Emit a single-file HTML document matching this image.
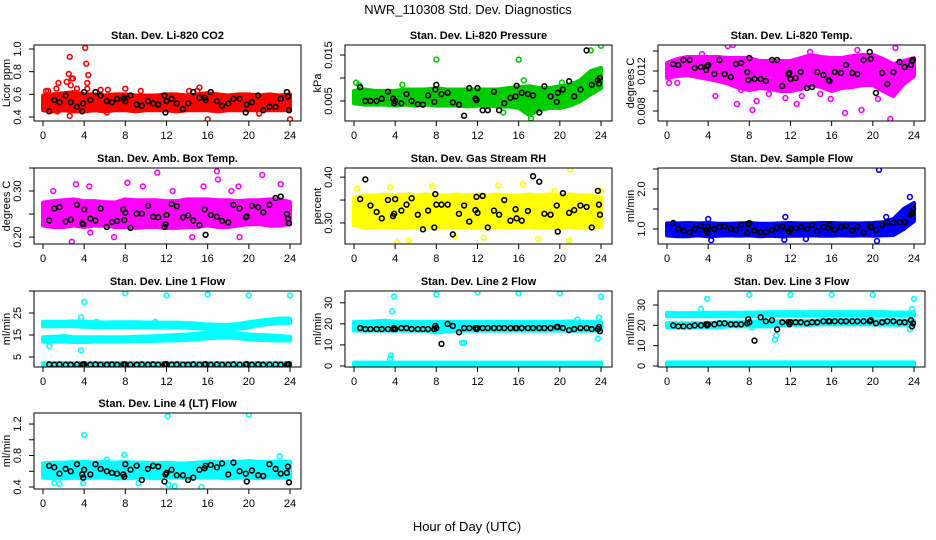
<!DOCTYPE html>
<html><head><meta charset="utf-8">
<style>
html,body{margin:0;padding:0;background:#fff;}
svg{display:block;font-family:"Liberation Sans",sans-serif;}
</style></head>
<body>
<svg id="chart" width="936" height="540" viewBox="0 0 936 540" xmlns="http://www.w3.org/2000/svg">
<rect width="936" height="540" fill="#fff"/>
<text x="468" y="14" text-anchor="middle" font-size="13">NWR_110308 Std. Dev. Diagnostics</text>
<text x="467" y="531" text-anchor="middle" font-size="13">Hour of Day (UTC)</text>
<g id="panels"></g>
</svg>
<script>
// ---- shared data ----
const hourTicks = [0,4,8,12,16,20,24];
const bandHours = [0,1,2,3,4,5,6,7,8,9,10,11,12,13,14,15,16,17,18,19,20,21,22,23,24];
const blackHours = [0.6,1.1,1.6,2.2,2.7,3.3,3.8,3.9,4.0,4.6,5.1,5.6,6.2,6.7,7.2,7.8,7.9,8.0,8.5,9.1,9.6,10.2,10.7,11.2,11.8,11.9,12.0,12.5,13.0,13.6,14.1,14.6,15.2,15.7,15.8,16.3,16.9,17.4,18.0,18.5,19.1,19.7,19.8,20.3,20.9,21.4,22.0,22.6,23.1,23.7,23.8,23.9];

// CO2
const co2Black = [0.45,0.55,0.53,0.59,0.53,0.49,0.45,0.52,0.62,0.55,0.62,0.59,0.54,0.53,0.56,0.56,0.57,0.54,0.59,0.51,0.5,0.54,0.52,0.51,0.59,0.44,0.54,0.56,0.52,0.47,0.52,0.62,0.57,0.57,0.55,0.62,0.54,0.5,0.52,0.56,0.56,0.44,0.51,0.53,0.59,0.46,0.49,0.49,0.56,0.62,0.58,0.46];
const co2Lo = [0.46,0.45,0.46,0.45,0.45,0.46,0.45,0.46,0.46,0.45,0.46,0.46,0.46,0.45,0.46,0.46,0.46,0.45,0.46,0.46,0.46,0.46,0.46,0.46,0.46];
const co2Hi = [0.59,0.6,0.61,0.62,0.6,0.6,0.59,0.6,0.6,0.59,0.59,0.59,0.6,0.6,0.59,0.6,0.61,0.6,0.59,0.6,0.6,0.59,0.6,0.59,0.6];
const co2Out = [[0.3,0.63],[0.5,0.63],[1.3,0.65],[1.4,0.45],[1.5,0.7],[2.3,0.71],[2.5,0.78],[2.6,0.93],[2.6,0.41],[2.7,0.68],[2.8,0.74],[2.9,0.74],[3.3,0.65],[4.1,1.01],[4.2,0.87],[4.4,0.77],[4.3,0.7],[4.3,0.65],[6.3,0.64],[6.2,0.44],[8,0.65],[9.5,0.63],[15.2,0.66],[15,0.63],[16,0.38],[21,0.43],[24,0.38],[5.6,0.64],[14.2,0.63]];

// Pressure
const presBlack = [0.008,0.005,0.005,0.005,0.0055,0.007,0.0055,0.0045,0.005,0.0045,0.0065,0.005,0.0043,0.0042,0.0062,0.0048,0.0075,0.0085,0.0065,0.0068,0.0047,0.0042,0.0018,0.0078,0.0055,0.0052,0.0078,0.003,0.003,0.007,0.003,0.0045,0.0057,0.006,0.0083,0.0068,0.0065,0.0062,0.0025,0.0082,0.006,0.0048,0.0068,0.0075,0.0093,0.006,0.0075,0.016,0.0085,0.0095,0.0088,0.01];
const presLo = [0.0045,0.0042,0.0042,0.0042,0.004,0.0042,0.004,0.0042,0.004,0.004,0.004,0.0038,0.004,0.004,0.0038,0.0038,0.0035,0.002,0.003,0.0035,0.0035,0.004,0.005,0.0065,0.0078];
const presHi = [0.0072,0.0075,0.0072,0.0072,0.0072,0.0075,0.0075,0.0075,0.0078,0.0075,0.0075,0.0075,0.0075,0.0075,0.0075,0.0078,0.008,0.0082,0.0078,0.0078,0.0082,0.0085,0.0095,0.0115,0.0122];
const presOut = [[8,0.014],[16,0.014],[23,0.016],[24,0.017],[17.2,0.0012],[0.2,0.009],[16.5,0.0095],[0.5,0.0085],[4.7,0.0085],[20.2,0.009],[23.2,0.007],[14.5,0.0025]];

// Li-820 Temp
const tempBlack = [0.0127,0.0126,0.0131,0.0131,0.0123,0.0124,0.0121,0.0125,0.0126,0.0117,0.0131,0.0117,0.0114,0.0127,0.0128,0.0119,0.0111,0.0133,0.0112,0.0112,0.011,0.0131,0.0131,0.0105,0.0117,0.0118,0.0112,0.0113,0.0119,0.0103,0.0104,0.0119,0.0116,0.0111,0.011,0.0119,0.0118,0.0126,0.0118,0.0117,0.0131,0.0139,0.0132,0.0098,0.0118,0.0107,0.0119,0.0129,0.0124,0.0126,0.013,0.0131];
const tempLo = [0.0113,0.0115,0.0116,0.0114,0.0112,0.011,0.0107,0.0103,0.0101,0.0103,0.0102,0.01,0.01,0.0102,0.0106,0.0104,0.01,0.0103,0.0104,0.0106,0.0106,0.01,0.0095,0.0107,0.0115];
const tempHi = [0.0128,0.0132,0.0134,0.0134,0.0134,0.0134,0.0133,0.0133,0.0133,0.013,0.013,0.013,0.013,0.0133,0.0136,0.0134,0.0133,0.0133,0.0135,0.0136,0.0136,0.0132,0.0127,0.013,0.0133];
const tempOut = [[6.8,0.0087],[8.3,0.0081],[11.5,0.0093],[12.6,0.0087],[17.3,0.0078],[18.9,0.0081],[20.5,0.0092],[21.7,0.0072],[4.7,0.0095],[8.7,0.009],[9.9,0.0097],[15.9,0.0092],[5.9,0.0145],[6.4,0.0146],[22.2,0.0143],[18.5,0.0141],[1,0.0108],[0.2,0.0108],[13.1,0.0095],[14.9,0.0097],[7.2,0.0101],[3.4,0.0137],[13.9,0.0139]];

// Amb Box Temp
const ambBlack = [0.236,0.262,0.265,0.234,0.238,0.27,0.23,0.228,0.26,0.24,0.236,0.262,0.222,0.233,0.235,0.26,0.237,0.253,0.22,0.251,0.251,0.268,0.244,0.243,0.222,0.228,0.248,0.272,0.267,0.243,0.247,0.236,0.226,0.26,0.205,0.248,0.244,0.235,0.232,0.27,0.262,0.243,0.245,0.268,0.265,0.254,0.27,0.285,0.288,0.25,0.24,0.23];
const ambLo = [0.225,0.222,0.222,0.225,0.222,0.225,0.225,0.222,0.222,0.22,0.222,0.222,0.22,0.22,0.222,0.222,0.225,0.222,0.222,0.225,0.228,0.228,0.225,0.225,0.228];
const ambHi = [0.275,0.278,0.28,0.282,0.278,0.278,0.276,0.275,0.282,0.28,0.28,0.28,0.278,0.278,0.282,0.282,0.282,0.28,0.28,0.278,0.28,0.28,0.282,0.282,0.276];
const ambOut = [[3.2,0.315],[4.5,0.31],[1,0.3],[8.2,0.318],[11.1,0.34],[12.6,0.3],[16.9,0.343],[17,0.325],[21.3,0.335],[23.1,0.315],[19,0.31],[2.8,0.19],[6.9,0.2],[19.1,0.2],[14.5,0.2],[9.7,0.31],[18.3,0.3],[15.6,0.31],[4.6,0.21]];

// Gas stream RH
const rhBlack = [0.352,0.395,0.338,0.324,0.31,0.35,0.315,0.32,0.352,0.327,0.34,0.354,0.318,0.286,0.327,0.29,0.363,0.34,0.34,0.34,0.275,0.32,0.338,0.303,0.328,0.357,0.322,0.359,0.29,0.327,0.318,0.35,0.305,0.33,0.31,0.305,0.326,0.402,0.39,0.32,0.318,0.338,0.281,0.365,0.322,0.328,0.338,0.335,0.29,0.37,0.34,0.318];
const rhLo = [0.295,0.29,0.29,0.292,0.29,0.29,0.292,0.29,0.29,0.292,0.29,0.29,0.29,0.29,0.292,0.29,0.29,0.292,0.29,0.29,0.29,0.292,0.29,0.29,0.292];
const rhHi = [0.355,0.36,0.36,0.362,0.36,0.362,0.36,0.362,0.36,0.36,0.362,0.36,0.362,0.36,0.362,0.36,0.36,0.362,0.36,0.362,0.36,0.362,0.36,0.36,0.355];
const rhOut = [[21,0.417],[14,0.382],[0.3,0.375],[3.5,0.378],[4.2,0.258],[5.3,0.262],[24,0.37],[19.5,0.37],[7.6,0.38],[16.4,0.385],[9.8,0.27],[12.6,0.268],[20.9,0.262],[17.9,0.265]];

// Sample flow
const sfBlack = [1.15,1.0,0.95,0.92,1.0,1.08,0.98,0.92,1.05,1.0,1.05,1.07,1.0,0.98,1.1,0.9,1.12,1.15,0.96,0.92,0.93,0.98,1.03,1.06,0.95,0.93,1.0,1.03,1.05,1.0,1.1,0.94,1.05,1.03,1.1,0.98,1.05,1.08,0.96,1.07,0.92,1.08,1.05,0.98,1.1,1.17,1.15,1.17,1.18,1.35,1.4,1.5];
const sfLo = [0.84,0.82,0.82,0.84,0.82,0.83,0.84,0.83,0.84,0.82,0.83,0.82,0.83,0.83,0.84,0.83,0.83,0.84,0.83,0.84,0.83,0.84,0.85,1.0,1.2];
const sfHi = [1.14,1.14,1.15,1.14,1.15,1.13,1.13,1.14,1.15,1.13,1.13,1.14,1.15,1.14,1.14,1.15,1.15,1.14,1.14,1.14,1.15,1.17,1.25,1.5,1.65];
const sfOut = [[20.6,2.48],[20.4,0.7],[23.6,1.8],[4,1.25],[11.5,1.3],[21.3,1.3],[4.3,0.72],[11.4,0.73],[13.5,0.75]];

// Line 1 flow
const l1Black = [1.6,1.5,1.6,1.5,1.5,1.6,1.5,1.6,1.7,1.5,1.6,1.5,1.5,1.6,1.5,1.6,1.5,1.6,1.5,1.5,1.6,1.5,1.6,1.5,1.6,1.5,1.7,1.5,1.6,1.5,1.5,1.6,1.5,1.6,1.7,1.5,1.6,1.5,1.5,1.6,1.5,1.6,1.7,1.5,1.6,1.5,1.5,1.6,1.5,1.6,1.5,1.7];
const l1UpLo = [19,19,19,19,18.8,18.5,18.5,18.6,18.7,18.6,18.5,18.5,18.6,18.5,18.3,18,17.8,17.6,17.6,17.8,18.5,19.5,20,20.5,20.5];
const l1UpHi = [21,21,21,21.2,21,20.8,20.7,20.8,20.8,20.8,20.7,20.6,20.6,20.6,20.4,20.2,19.8,19.6,19.6,20,20.8,21.5,22,22.5,22.5];
const l1LoLo = [12,12,12,11.8,11.8,12,12,12,12,12.2,12.2,12.3,12.5,12.5,12.8,13,13.5,13.8,14,13.6,13,12.8,12.6,12.5,12.5];
const l1LoHi = [14,14.2,14.5,14,14,14,14,14,14,14.2,14.3,14.5,14.8,15,15.3,15.6,16,16.2,16.3,15.8,15.3,15,14.8,14.5,14.2];
const l1BotLo = [0.8,0.8,0.8,0.8,0.8,0.8,0.8,0.8,0.8,0.8,0.8,0.8,0.8,0.8,0.8,0.8,0.8,0.8,0.8,0.8,0.8,0.8,0.8,0.8,0.8];
const l1BotHi = [2.2,2.2,2.2,2.2,2.2,2.2,2.2,2.2,2.2,2.2,2.2,2.2,2.2,2.2,2.2,2.2,2.2,2.2,2.2,2.2,2.2,2.2,2.2,2.2,2.2];
const l1Out = [[4,30],[8,34],[12,33],[16,33.5],[20,33],[24,33],[3.7,23],[3.7,8],[0.6,10],[5.2,21],[10.9,21]];

// Line 2 flow
const l2Black = [18,17.5,17.5,17.5,17.5,17.5,17.5,18,17.5,18,18,17.5,17.5,17.5,17.5,17.5,19,18,10.5,20,19,16,18,18,18,17.5,18,18,18,18,18,18,18,18,18,18,18,18,18,18,18,18.5,18.5,18,17,17.5,18,18,17.5,17.5,18.5,16.5];
const l2Lo = [16.8,16.8,16.8,16.8,16.8,16.8,16.8,16.8,15.8,16.5,16.8,16.8,16.8,16.8,16.8,16.8,16.8,16.8,16.8,16.8,16.8,16.8,16.8,16.8,16.8];
const l2Hi = [21,21,21.2,21.5,21,21,21,21,21,21,21,21,21,21,21,21,21,21,21,21,21,21.2,21,21,21];
const l2BotLo = [0.4,0.4,0.4,0.4,0.4,0.4,0.4,0.4,0.4,0.4,0.4,0.4,0.4,0.4,0.4,0.4,0.4,0.4,0.4,0.4,0.4,0.4,0.4,0.4,0.4];
const l2BotHi = [1.6,1.6,1.6,1.6,1.6,1.6,1.6,1.6,1.6,1.6,1.6,1.6,1.6,1.6,1.6,1.6,1.6,1.6,1.6,1.6,1.6,1.6,1.6,1.6,1.6];
const l2Out = [[3.7,26],[3.9,33],[3.6,5],[3.5,3.5],[8,34],[12,35],[16,34.5],[20,34.5],[24,33],[23.8,23],[23.7,13],[10.5,11],[10.7,11],[21.7,22]];

// Line 3 flow
const l3Black = [20,19.5,19.5,19.5,20,20,20.5,20,20.5,20.5,21,21,20.5,20.5,20.5,21,23,21.5,12.5,24,22,22.5,18,21.5,21.5,20.5,21.5,21.5,21.5,21,21.5,21.5,22,22,22,22,22,22,22,22,22,22,22.5,21,21.5,22,22,21.5,21.5,22.5,19.5,21];
const l3UpLo = [24.5,24.5,24.5,24.5,24.5,24.5,24.5,24.5,24.5,24.5,24.8,24.8,24.8,24.8,24.8,24.8,24.8,24.8,24.8,24.8,24.8,24.8,24.8,24.8,24.8];
const l3UpHi = [26.2,26,26,26,26.2,26.2,26.2,26.2,26.3,26.3,26.5,26.5,26.5,26.5,26.5,26.5,26.5,26.5,26.5,26.5,26.5,26.5,26.3,26.3,26.3];
const l3MidLo = [19,19,19,19,19,19,19.5,19.5,19.5,19.5,19.5,20,20.3,20.3,20.3,20.5,20.5,20.5,20.5,20.5,20.5,20.3,20.3,20.3,20.3];
const l3MidHi = [21,21,21,21,21,21.5,21.5,21.5,21.8,22,22,22,22.2,22.2,22.2,22.5,22.5,22.5,22.5,22.5,22.5,22.3,22.3,22.3,22.3];
const l3BotLo = [0.5,0.5,0.5,0.5,0.5,0.5,0.5,0.5,0.5,0.5,0.5,0.5,0.5,0.5,0.5,0.5,0.5,0.5,0.5,0.5,0.5,0.5,0.5,0.5,0.5];
const l3BotHi = [1.8,1.8,1.8,1.8,1.8,1.8,1.8,1.8,1.8,1.8,1.8,1.8,1.8,1.8,1.8,1.8,1.8,1.8,1.8,1.8,1.8,1.8,1.8,1.8,1.8];
const l3Out = [[3.9,33],[8,35],[12,35],[16,35],[20,35],[24,33],[3.3,28],[10.5,13],[10.6,15],[23.8,28],[8.3,19],[23.6,18]];

// Line 4 flow
const l4Black = [0.67,0.65,0.57,0.63,0.6,0.69,0.56,0.52,0.62,0.56,0.69,0.63,0.6,0.58,0.57,0.56,0.53,0.69,0.62,0.67,0.49,0.63,0.67,0.66,0.47,0.56,0.58,0.62,0.55,0.55,0.49,0.52,0.62,0.64,0.67,0.68,0.65,0.7,0.56,0.71,0.6,0.57,0.47,0.61,0.55,0.54,0.69,0.63,0.57,0.58,0.66,0.46];
const l4Lo = [0.52,0.51,0.51,0.52,0.51,0.52,0.52,0.51,0.51,0.52,0.52,0.51,0.52,0.52,0.51,0.52,0.52,0.52,0.51,0.52,0.52,0.51,0.52,0.52,0.52];
const l4Hi = [0.7,0.71,0.71,0.72,0.72,0.71,0.72,0.71,0.72,0.71,0.71,0.7,0.71,0.7,0.7,0.71,0.72,0.72,0.72,0.72,0.73,0.72,0.72,0.72,0.72];
const l4Out = [[4,1.06],[12.1,1.3],[20,1.32],[7.9,0.81],[23,0.79],[15.4,0.4],[12.8,0.41],[1.6,0.44],[1.1,0.45],[3.9,0.45],[12.2,0.43],[9.3,0.45],[6.2,0.75]];

// ---- panel definitions ----
const COLS = [34, 345, 658], ROWS = [45, 168, 291, 413], PW = 267, PH = 76;
const panels = [
 {name:'co2',title:'Stan. Dev. Li-820 CO2',ylab:'Licor ppm',col:0,row:0,color:'#ff0000',ymin:0.365,ymax:1.035,ticks:[0.4,0.6,0.8,1.0],labels:['0.4','0.6','0.8','1.0'],bands:[[co2Lo,co2Hi]],out:co2Out,black:co2Black},
 {name:'pressure',title:'Stan. Dev. Li-820 Pressure',ylab:'kPa',col:1,row:0,color:'#00cd00',ymin:0.00065,ymax:0.01717,ticks:[0.005,0.010,0.015],labels:['0.005','','0.015'],bands:[[presLo,presHi]],out:presOut,black:presBlack},
 {name:'li820-temp',title:'Stan. Dev. Li-820 Temp.',ylab:'degrees C',col:2,row:0,color:'#ff00ff',ymin:0.007,ymax:0.0146,ticks:[0.008,0.010,0.012,0.014],labels:['0.008','','0.012',''],bands:[[tempLo,tempHi]],out:tempOut,black:tempBlack},
 {name:'amb-box-temp',title:'Stan. Dev. Amb. Box Temp.',ylab:'degrees C',col:0,row:1,color:'#ff00ff',ymin:0.185,ymax:0.35,ticks:[0.20,0.25,0.30,0.35],labels:['0.20','','0.30',''],bands:[[ambLo,ambHi]],out:ambOut,black:ambBlack},
 {name:'gas-stream-rh',title:'Stan. Dev. Gas Stream RH',ylab:'percent',col:1,row:1,color:'#ffff00',ymin:0.254,ymax:0.42,ticks:[0.30,0.35,0.40],labels:['0.30','','0.40'],bands:[[rhLo,rhHi]],out:rhOut,black:rhBlack},
 {name:'sample-flow',title:'Stan. Dev. Sample Flow',ylab:'ml/min',col:2,row:1,color:'#0000ff',ymin:0.625,ymax:2.525,ticks:[1.0,1.5,2.0,2.5],labels:['1.0','','2.0',''],bands:[[sfLo,sfHi]],out:sfOut,black:sfBlack},
 {name:'line1-flow',title:'Stan. Dev. Line 1 Flow',ylab:'ml/min',col:0,row:2,color:'#00ffff',ymin:0.45,ymax:35,ticks:[5,15,25,35],labels:['5','15','25',''],bands:[[l1UpLo,l1UpHi],[l1LoLo,l1LoHi],[l1BotLo,l1BotHi]],out:l1Out,black:l1Black},
 {name:'line2-flow',title:'Stan. Dev. Line 2 Flow',ylab:'ml/min',col:1,row:2,color:'#00ffff',ymin:-0.5,ymax:35.6,ticks:[0,10,20,30],labels:['0','10','20','30'],bands:[[l2Lo,l2Hi],[l2BotLo,l2BotHi]],out:l2Out,black:l2Black},
 {name:'line3-flow',title:'Stan. Dev. Line 3 Flow',ylab:'ml/min',col:2,row:2,color:'#00ffff',ymin:-0.5,ymax:36.9,ticks:[0,10,20,30],labels:['0','10','20','30'],bands:[[l3UpLo,l3UpHi],[l3MidLo,l3MidHi],[l3BotLo,l3BotHi]],out:l3Out,black:l3Black},
 {name:'line4-flow',title:'Stan. Dev. Line 4 (LT) Flow',ylab:'ml/min',col:0,row:3,color:'#00ffff',ymin:0.375,ymax:1.34,ticks:[0.4,0.6,0.8,1.0,1.2],labels:['0.4','','0.8','','1.2'],bands:[[l4Lo,l4Hi]],out:l4Out,black:l4Black}
];

const NS = 'http://www.w3.org/2000/svg';
function mk(tag, attrs, parent){
  const e = document.createElementNS(NS, tag);
  for (const k in attrs) e.setAttribute(k, attrs[k]);
  parent.appendChild(e);
  return e;
}
const root = document.getElementById('panels');

panels.forEach(p => {
  const L = COLS[p.col], T = ROWS[p.row];
  const xs = h => L + 9 + h * 247 / 24;
  const ys = v => T + PH * (p.ymax - v) / (p.ymax - p.ymin);
  const g = mk('g', {}, root);
  
  
  const clipId = 'clip-' + p.name;
  const cp = mk('clipPath', {id: clipId}, g);
  mk('rect', {x: L, y: T, width: PW, height: PH}, cp);
  const plot = mk('g', {'clip-path': 'url(#' + clipId + ')'}, g);

  p.bands.forEach(b => {
    const lo = b[0], hi = b[1];
    let pts = [];
    bandHours.forEach((h, i) => pts.push(xs(h) + ',' + ys(hi[i])));
    for (let i = bandHours.length - 1; i >= 0; i--) pts.push(xs(bandHours[i]) + ',' + ys(lo[i]));
    const poly = mk('polygon', {points: pts.join(' '), fill: p.color, stroke: p.color, 'stroke-width': 4, 'stroke-linejoin': 'round'}, plot);
    
    
  });
  p.out.forEach(o => {
    const c = mk('circle', {cx: xs(o[0]), cy: ys(o[1]), r: 2.4, fill: 'none', stroke: p.color, 'stroke-width': 1.6}, plot);
    
    
  });
  const n = Math.min(blackHours.length, p.black.length);
  for (let i = 0; i < n; i++) {
    const c = mk('circle', {cx: xs(blackHours[i]), cy: ys(p.black[i]), r: 2.4, fill: 'none', stroke: '#000', 'stroke-width': 1.6}, plot);
    
    
  }
  const box = mk('rect', {x: L, y: T, width: PW, height: PH, fill: 'none', stroke: '#000', 'stroke-width': 1}, g);
  
  
  const tt = mk('text', {x: L + PW / 2, y: T - 6, 'text-anchor': 'middle', 'font-size': 11, 'font-weight': 'bold'}, g);
  tt.textContent = p.title;
  
  
  hourTicks.forEach(h => {
    mk('line', {x1: xs(h), x2: xs(h), y1: T + PH, y2: T + PH + 5, stroke: '#000'}, g);
    const t = mk('text', {x: xs(h), y: T + PH + 18, 'text-anchor': 'middle', 'font-size': 11}, g);
    t.textContent = h;
    
    
  });
  p.ticks.forEach((v, i) => {
    mk('line', {x1: L - 5, x2: L, y1: ys(v), y2: ys(v), stroke: '#000'}, g);
    if (p.labels[i]) {
      const yy = ys(v);
      const t = mk('text', {x: L - 13, y: yy, 'text-anchor': 'middle', 'font-size': 11, transform: 'rotate(-90 ' + (L - 13) + ' ' + yy + ')'}, g);
      t.textContent = p.labels[i];
      
      
    }
  });
  const yc = T + PH / 2, xl = L - 24;
  const yt = mk('text', {x: xl, y: yc, 'text-anchor': 'middle', 'font-size': 11, transform: 'rotate(-90 ' + xl + ' ' + yc + ')'}, g);
  yt.textContent = p.ylab;
  
  
});
</script>
</body></html>
